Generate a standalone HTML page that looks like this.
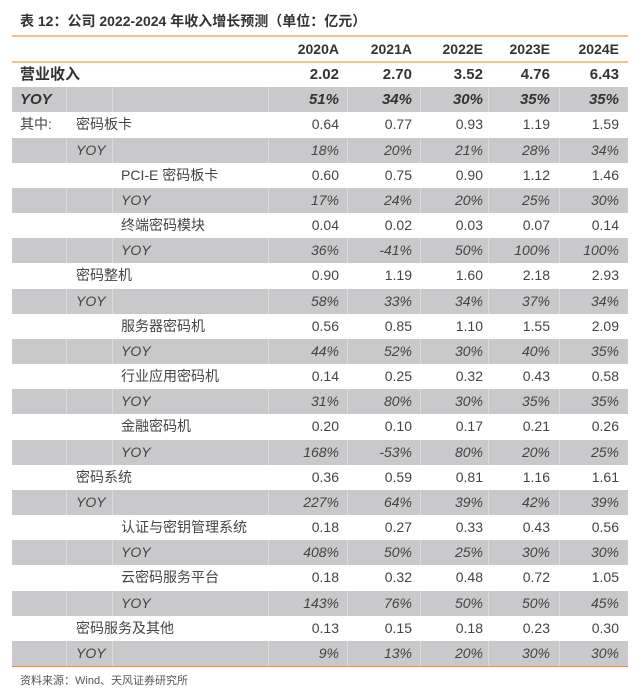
<!DOCTYPE html><html><head><meta charset="utf-8"><style>
body{margin:0;width:640px;height:696px;background:#fff;font-family:"Liberation Sans","Noto Sans CJK SC",sans-serif;color:#444;position:relative;overflow:hidden}
.t{position:absolute;left:20px;top:11px;font-size:14px;font-weight:bold;color:#333}
.hl{position:absolute;left:12px;width:616px;height:2px;background:#f5c08c}
.r{position:absolute;left:12px;width:616px;height:25px;font-size:14px}
.g{background:#c9c9cb}
.g .s{position:absolute;top:0;width:1px;height:25px;background:#dcdcdd}
.c{position:absolute;top:0;line-height:25px;white-space:nowrap}
.v{position:absolute;top:0;line-height:25px;text-align:right;width:60px}
.g .c,.g .v{font-style:italic}
.b{font-weight:bold;font-size:15px;color:#333}
.hd{color:#333;font-weight:600}
.f{position:absolute;left:20px;top:672px;font-size:11px;color:#555}
</style></head><body>
<div class="t">表 12：公司 2022-2024 年收入增长预测（单位：亿元）</div>
<div class="hl" style="top:35px"></div>
<div class="r hd" style="top:37px;font-size:14px"><span class="v" style="left:267px">2020A</span><span class="v" style="left:340px">2021A</span><span class="v" style="left:411px">2022E</span><span class="v" style="left:478px">2023E</span><span class="v" style="left:547px">2024E</span></div>
<div class="hl" style="top:61px"></div>
<div id="rows"></div>
<div style="position:absolute;left:12px;top:666px;width:616px;height:1px;background:#f08a2c"></div>
<div class="f">资料来源：Wind、天风证券研究所</div>
<script>
var d=[["营业收入",0,"2.02","2.70","3.52","4.76","6.43",1],
["YOY",0,"51%","34%","30%","35%","35%",1],
["密码板卡",1,"0.64","0.77","0.93","1.19","1.59"],
["YOY",1,"18%","20%","21%","28%","34%"],
["PCI-E 密码板卡",2,"0.60","0.75","0.90","1.12","1.46"],
["YOY",2,"17%","24%","20%","25%","30%"],
["终端密码模块",2,"0.04","0.02","0.03","0.07","0.14"],
["YOY",2,"36%","-41%","50%","100%","100%"],
["密码整机",1,"0.90","1.19","1.60","2.18","2.93"],
["YOY",1,"58%","33%","34%","37%","34%"],
["服务器密码机",2,"0.56","0.85","1.10","1.55","2.09"],
["YOY",2,"44%","52%","30%","40%","35%"],
["行业应用密码机",2,"0.14","0.25","0.32","0.43","0.58"],
["YOY",2,"31%","80%","30%","35%","35%"],
["金融密码机",2,"0.20","0.10","0.17","0.21","0.26"],
["YOY",2,"168%","-53%","80%","20%","25%"],
["密码系统",1,"0.36","0.59","0.81","1.16","1.61"],
["YOY",1,"227%","64%","39%","42%","39%"],
["认证与密钥管理系统",2,"0.18","0.27","0.33","0.43","0.56"],
["YOY",2,"408%","50%","25%","30%","30%"],
["云密码服务平台",2,"0.18","0.32","0.48","0.72","1.05"],
["YOY",2,"143%","76%","50%","50%","45%"],
["密码服务及其他",1,"0.13","0.15","0.18","0.23","0.30"],
["YOY",1,"9%","13%","20%","30%","30%"]];
var L=[8,64,109],R=[327,400,471,538,607],h="";
d.forEach(function(r,i){var top=62+i*25.17,g=i%2==1;
h+='<div class="r'+(g?' g':'')+(r[7]?' b':'')+'" style="top:'+top+'px">';
if(g)[54,100,256,335,408,476,547].forEach(function(x){h+='<i class="s" style="left:'+x+'px"></i>'});
if(i==2)h+='<span class="c" style="left:8px">其中:</span>';
h+='<span class="c" style="left:'+L[r[1]]+'px">'+r[0]+'</span>';
for(var k=0;k<5;k++)h+='<span class="v" style="left:'+(R[k]-60)+'px">'+r[2+k]+'</span>';
h+='</div>'});
document.getElementById('rows').innerHTML=h;
</script></body></html>
